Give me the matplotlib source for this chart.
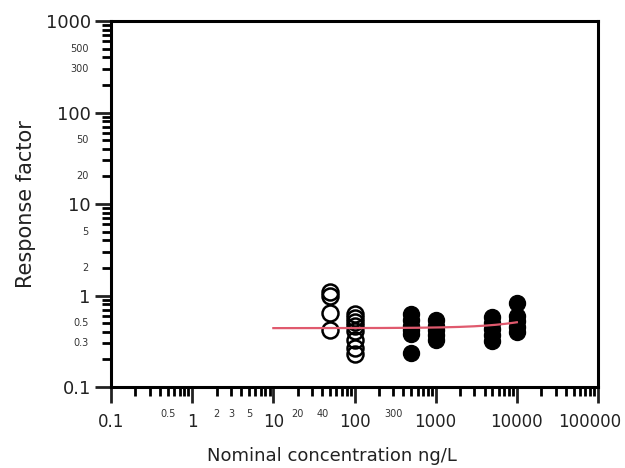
import numpy as np
import matplotlib.pyplot as plt
import matplotlib.transforms as mtransforms
from matplotlib.ticker import FixedLocator, FixedFormatter, LogLocator, NullFormatter

plt.rcParams["font.family"] = ["DejaVu Sans"]

# open symbols: low-level standards
open_x = [50, 50, 50, 50, 100, 100, 100, 100, 100, 100, 100, 100]
open_y = [1.1, 1.0, 0.64, 0.42, 0.63, 0.57, 0.51, 0.46, 0.41, 0.33, 0.27, 0.23]

# filled symbols: calibration standards
filled_x = [500] * 6 + [1000] * 5 + [5000] * 5 + [10000] * 5
filled_y = [0.63, 0.54, 0.47, 0.42, 0.38, 0.235,
            0.54, 0.47, 0.42, 0.37, 0.33,
            0.58, 0.50, 0.43, 0.37, 0.32,
            0.83, 0.60, 0.52, 0.45, 0.40]

# linear response-factor fit
fit_intercept = 0.44
fit_slope = 7.0e-6
fit_range = (10, 10000)

x_major = [0.1, 1, 10, 100, 1000, 10000, 100000]
x_major_labels = ["0.1", "1", "10", "100", "1000", "10000", "100000"]
x_minor_labels = {0.5: "0.5", 2: "2", 3: "3", 5: "5", 20: "20", 40: "40", 300: "300"}
y_major = [0.1, 1, 10, 100, 1000]
y_major_labels = ["0.1", "1", "10", "100", "1000"]
y_minor_labels = {0.3: "0.3", 0.5: "0.5", 2: "2", 5: "5", 20: "20", 50: "50", 300: "300", 500: "500"}

fig = plt.figure(figsize=(6.25, 4.68), dpi=100)
ax = fig.add_axes([0.1776, 0.1731, 0.7792, 0.7819])
ax.set_xscale("log")
ax.set_yscale("log")
ax.set_xlim(0.1, 100000)
ax.set_ylim(0.1, 1000)

xf = np.logspace(np.log10(fit_range[0]), np.log10(fit_range[1]), 200)
ax.plot(xf, fit_intercept + fit_slope * xf, color="#e05a6e", lw=1.6, zorder=3)

ax.plot(open_x, open_y, "o", ms=11.5, mfc="none", mec="black", mew=1.8, zorder=2)
ax.plot(filled_x, filled_y, "o", ms=11.5, mfc="black", mec="black", zorder=2)

for s in ax.spines.values():
    s.set_linewidth(2.2)

ax.xaxis.set_major_locator(FixedLocator(x_major))
ax.xaxis.set_major_formatter(FixedFormatter(x_major_labels))
ax.xaxis.set_minor_locator(LogLocator(base=10, subs=np.arange(2, 10)))
ax.yaxis.set_major_locator(FixedLocator(y_major))
ax.yaxis.set_major_formatter(FixedFormatter(y_major_labels))
ax.yaxis.set_minor_locator(LogLocator(base=10, subs=np.arange(2, 10)))
ax.xaxis.set_minor_formatter(NullFormatter())
ax.yaxis.set_minor_formatter(NullFormatter())

ax.tick_params(which="major", direction="out", length=11.5, width=2, labelsize=13,
               colors="#222222", pad=3)
ax.tick_params(which="minor", direction="out", length=6.5, width=2)
ax.tick_params(axis="x", which="major", pad=7, labelsize=12)

# keep the last x label inside the figure
fig.canvas.draw()
last = ax.get_xticklabels()[-1]
last.set_transform(last.get_transform() +
                   mtransforms.ScaledTranslation(-8 / 100, 0, fig.dpi_scale_trans))

# small labels on selected minor ticks
for v, t in x_minor_labels.items():
    ax.annotate(t, (v, 0), xycoords=("data", "axes fraction"), xytext=(0, -16),
                textcoords="offset points", ha="center", va="top", fontsize=7,
                color="#333333")
for v, t in y_minor_labels.items():
    ax.annotate(t, (0, v), xycoords=("axes fraction", "data"), xytext=(-16, 0),
                textcoords="offset points", ha="right", va="center", fontsize=7,
                color="#333333")

ax.set_xlabel("Nominal concentration ng/L", fontsize=13, color="#222222")
ax.xaxis.set_label_coords(0.454, -0.165)
ax.set_ylabel("Response factor", fontsize=15, color="#222222", labelpad=7)

fig.savefig("out.png", dpi=100)
